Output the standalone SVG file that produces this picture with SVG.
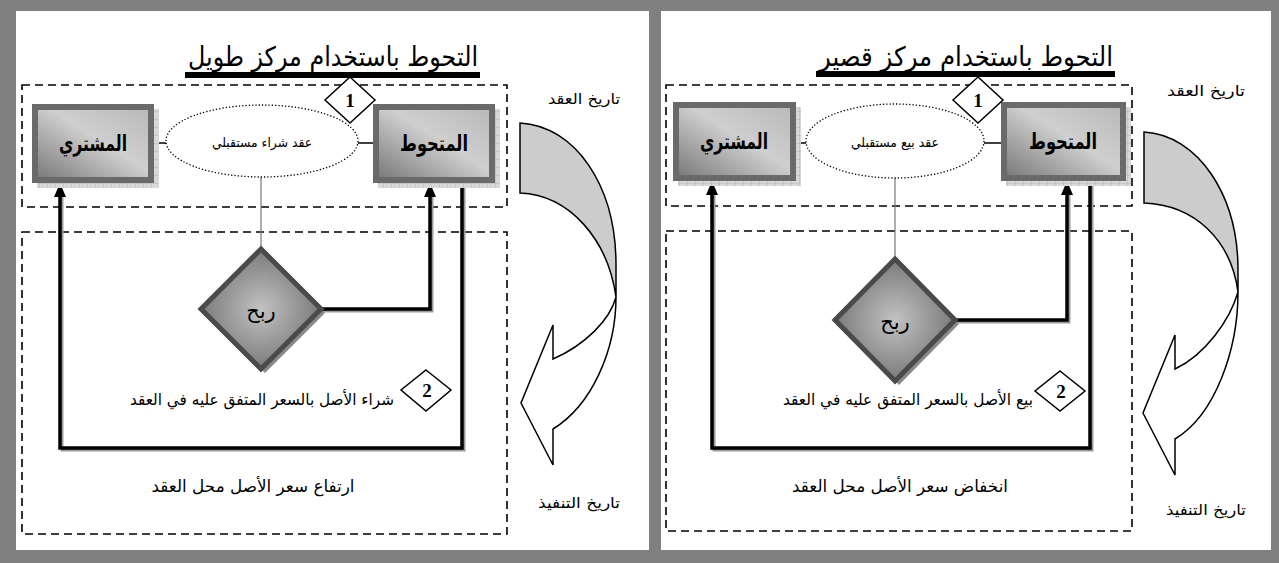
<svg xmlns="http://www.w3.org/2000/svg" width="1279" height="563" viewBox="0 0 1279 563">
<defs>
<style>
.ar{font-family:"DejaVu Sans",sans-serif;fill:#000}
.ttl{font-size:27px}
.lbl{font-size:16px}
.big{font-size:17px}
.pr{font-size:21px}
.sm{font-size:15px}
.et{font-size:13px}
.bt{font-size:22px;font-weight:bold}
.dash{fill:none;stroke:#000;stroke-width:1.6;stroke-dasharray:8 5}
.box{stroke:#6a6a6a;stroke-width:6;fill:url(#boxg)}
.sh{fill:url(#grid)}
.ell{fill:#fff;stroke:#000;stroke-width:1.3;stroke-dasharray:1.3 2}
.thin{stroke:#000;stroke-width:1.5;fill:none}
.vline{stroke:#777;stroke-width:1.2;fill:none}
.conn{fill:none;stroke:#000;stroke-width:3.5}
.connsh{fill:none;stroke:#9a9a9a;stroke-width:3}
.num{fill:#fff;stroke:#000;stroke-width:1.5}
.numt{font-family:"Liberation Serif",serif;font-weight:bold;font-size:19px;text-anchor:middle}
.dia{fill:url(#diag);stroke:#4a4a4a;stroke-width:5}
.diash{fill:#8a8a8a}
.arrowg{fill:#cccccc;stroke:#000;stroke-width:1.5}
.arroww{fill:#fff;stroke:#000;stroke-width:1.5}
.panel{fill:#fff}
</style>
<linearGradient id="boxg" x1="0" y1="1" x2="1" y2="0">
<stop offset="0" stop-color="#767676"/>
<stop offset="0.55" stop-color="#cfcfcf"/>
<stop offset="1" stop-color="#b8b8b8"/>
</linearGradient>
<radialGradient id="diag">
<stop offset="0" stop-color="#c2c2c2"/>
<stop offset="1" stop-color="#7a7a7a"/>
</radialGradient>
<pattern id="grid" width="8" height="8" patternUnits="userSpaceOnUse">
<rect width="8" height="8" fill="#d8d8d8"/>
<path d="M8 0V8H0" fill="none" stroke="#b4b4b4" stroke-width="1"/>
</pattern>
<marker id="ah" viewBox="0 0 14 12" refX="6" refY="6" markerWidth="14" markerHeight="12" markerUnits="userSpaceOnUse" orient="auto">
<path d="M0,0 L14,6 L0,12 Z" fill="#000"/>
</marker>
</defs>

<rect x="0" y="0" width="1279" height="563" fill="#808080"/>
<rect class="panel" x="16" y="11" width="633" height="539"/>
<rect class="panel" x="661" y="11" width="610" height="539"/>

<!-- LEFT PANEL -->
<g id="left-title">
<text class="ar ttl" x="333" y="66" text-anchor="middle" textLength="290" lengthAdjust="spacingAndGlyphs">التحوط باستخدام مركز طويل</text>
<rect x="185" y="72" width="295" height="6" fill="#000"/>
</g>
<g id="left-frames">
<rect class="dash" x="22" y="85" width="485" height="122"/>
<rect class="dash" x="22" y="232" width="485" height="302"/>
</g>
<g id="left-connectors">
<line class="thin" x1="154" y1="143" x2="166" y2="143"/>
<line class="thin" x1="358" y1="143" x2="373" y2="143"/>
<line class="vline" x1="261" y1="177" x2="261" y2="250"/>
<g transform="translate(2,2)">
<path class="connsh" d="M462,183 V448 H60 V195"/>
<path class="connsh" d="M321,309 H430 V195"/>
</g>
<path class="conn" d="M462,183 V448 H60 V191" marker-end="url(#ah)"/>
<path class="conn" d="M321,309 H430 V191" marker-end="url(#ah)"/>
</g>
<g id="left-buyer">
<rect class="sh" x="37" y="109" width="122" height="79"/>
<rect class="box" x="35" y="107" width="116" height="73"/>
<text class="ar bt" x="93" y="151" text-anchor="middle" textLength="68" lengthAdjust="spacingAndGlyphs">المشتري</text>
</g>
<g id="left-contract">
<ellipse class="ell" cx="262" cy="141" rx="96" ry="36"/>
<text class="ar et" x="262" y="147" text-anchor="middle" textLength="100" lengthAdjust="spacingAndGlyphs">عقد شراء مستقبلي</text>
</g>
<g id="left-hedger">
<rect class="sh" x="378" y="109" width="122" height="79"/>
<rect class="box" x="376" y="107" width="116" height="73"/>
<text class="ar bt" x="434" y="151" text-anchor="middle" textLength="68" lengthAdjust="spacingAndGlyphs">المتحوط</text>
</g>
<g id="left-step1">
<polygon class="num" points="350,77 375,100 350,123 325,100"/>
<text class="numt" x="350" y="107">1</text>
</g>
<g id="left-profit">
<polygon class="diash" points="265,253 325,313 265,373 205,313"/>
<polygon class="dia" points="261,249 321,309 261,369 201,309"/>
<text class="ar pr" x="261" y="318" text-anchor="middle">ربح</text>
</g>
<g id="left-step2">
<polygon class="num" points="426,370 451,390 426,411 401,390"/>
<text class="numt" x="427" y="397">2</text>
<text class="ar lbl" x="262" y="405" text-anchor="middle" textLength="264" lengthAdjust="spacingAndGlyphs">شراء الأصل بالسعر المتفق عليه في العقد</text>
</g>
<g id="left-rise">
<text class="ar big" x="253" y="492" text-anchor="middle" textLength="203" lengthAdjust="spacingAndGlyphs">ارتفاع سعر الأصل محل العقد</text>
</g>
<g id="left-timeline">
<text class="ar sm" x="584" y="104" text-anchor="middle" textLength="72" lengthAdjust="spacingAndGlyphs">تاريخ العقد</text>
<path class="arrowg" d="M520,123 C575,126 616,185 616,265 L616,297 C608,240 570,195 520,193 Z"/>
<path class="arroww" d="M616,297 C616,350 592,405 553,429 L553,465 L521,403 L553,325 L553,359 C585,345 610,320 616,297 Z"/>
<text class="ar sm" x="579" y="508" text-anchor="middle" textLength="82" lengthAdjust="spacingAndGlyphs">تاريخ التنفيذ</text>
</g>

<!-- RIGHT PANEL -->
<g id="right-title">
<text class="ar ttl" x="966" y="66" text-anchor="middle" textLength="294" lengthAdjust="spacingAndGlyphs">التحوط باستخدام مركز قصير</text>
<rect x="816" y="71" width="299" height="6" fill="#000"/>
</g>
<g id="right-frames">
<rect class="dash" x="666" y="85" width="466" height="121"/>
<rect class="dash" x="666" y="231" width="466" height="300"/>
</g>
<g id="right-connectors">
<line class="thin" x1="796" y1="143" x2="806" y2="143"/>
<line class="thin" x1="984" y1="143" x2="1001" y2="143"/>
<line class="vline" x1="895" y1="178" x2="895" y2="260"/>
<g transform="translate(2,2)">
<path class="connsh" d="M1090,181 V448 H712 V193"/>
<path class="connsh" d="M955,320 H1067 V193"/>
</g>
<path class="conn" d="M1090,181 V448 H712 V189" marker-end="url(#ah)"/>
<path class="conn" d="M955,320 H1067 V189" marker-end="url(#ah)"/>
</g>
<g id="right-buyer">
<rect class="sh" x="678" y="107" width="123" height="79"/>
<rect class="box" x="676" y="105" width="117" height="73"/>
<text class="ar bt" x="734" y="149" text-anchor="middle" textLength="68" lengthAdjust="spacingAndGlyphs">المشتري</text>
</g>
<g id="right-contract">
<ellipse class="ell" cx="895" cy="141" rx="89" ry="37"/>
<text class="ar et" x="895" y="147" text-anchor="middle" textLength="88" lengthAdjust="spacingAndGlyphs">عقد بيع مستقبلي</text>
</g>
<g id="right-hedger">
<rect class="sh" x="1006" y="107" width="125" height="79"/>
<rect class="box" x="1004" y="105" width="119" height="73"/>
<text class="ar bt" x="1063" y="149" text-anchor="middle" textLength="68" lengthAdjust="spacingAndGlyphs">المتحوط</text>
</g>
<g id="right-step1">
<polygon class="num" points="978,77 1003,100 978,123 953,100"/>
<text class="numt" x="978" y="107">1</text>
</g>
<g id="right-profit">
<polygon class="diash" points="899,263 959,324 899,385 839,324"/>
<polygon class="dia" points="895,259 955,320 895,381 835,320"/>
<text class="ar pr" x="895" y="329" text-anchor="middle">ربح</text>
</g>
<g id="right-step2">
<polygon class="num" points="1060,371 1085,391 1060,411 1035,391"/>
<text class="numt" x="1061" y="398">2</text>
<text class="ar lbl" x="908" y="405" text-anchor="middle" textLength="250" lengthAdjust="spacingAndGlyphs">بيع الأصل بالسعر المتفق عليه في العقد</text>
</g>
<g id="right-fall">
<text class="ar big" x="900" y="492" text-anchor="middle" textLength="216" lengthAdjust="spacingAndGlyphs">انخفاض سعر الأصل محل العقد</text>
</g>
<g id="right-timeline">
<text class="ar sm" x="1206" y="96" text-anchor="middle" textLength="78" lengthAdjust="spacingAndGlyphs">تاريخ العقد</text>
<path class="arrowg" d="M1144,132 C1198,135 1238,195 1238,270 L1238,292 C1231,240 1195,205 1144,203 Z"/>
<path class="arroww" d="M1238,292 C1238,350 1215,415 1175,439 L1175,475 L1143,413 L1175,335 L1175,369 C1205,355 1230,320 1238,292 Z"/>
<text class="ar sm" x="1206" y="515" text-anchor="middle" textLength="80" lengthAdjust="spacingAndGlyphs">تاريخ التنفيذ</text>
</g>
</svg>
